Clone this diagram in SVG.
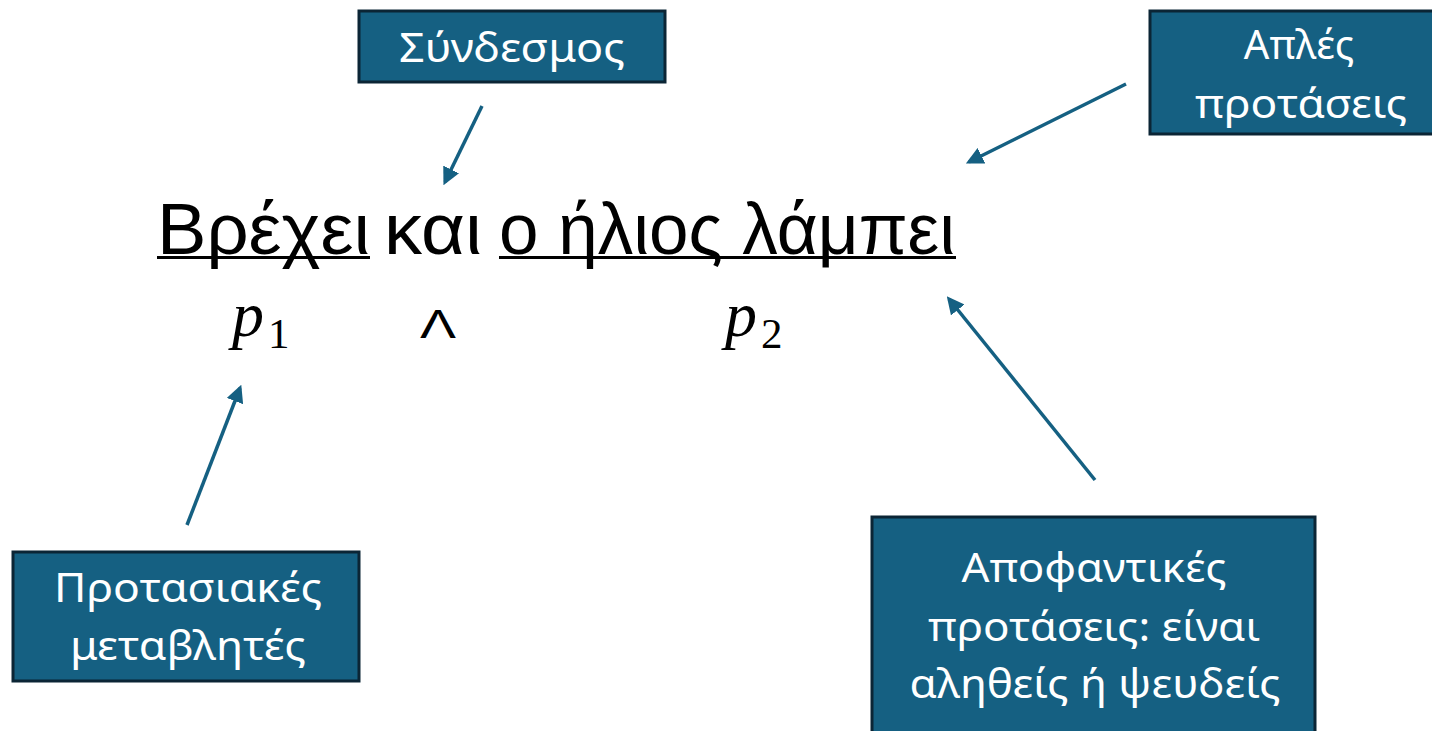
<svg xmlns="http://www.w3.org/2000/svg" width="1432" height="731" viewBox="0 0 1432 731">
<defs>
<style>
.box{fill:#156082;stroke:#0b2535;stroke-width:3}
.lbl{font-family:"Noto Sans","Liberation Sans",sans-serif;font-size:40px;fill:#ffffff;text-anchor:middle}
.main{font-family:"Liberation Sans",Arial,sans-serif;font-size:73px;fill:#000000}
.math{font-family:"Liberation Serif","DejaVu Serif",serif;font-size:64px;fill:#000000}
.sub{font-family:"Liberation Serif","DejaVu Serif",serif;font-size:43px;fill:#000000}
.wedge{font-family:"Liberation Sans",Arial,sans-serif;font-size:40px;fill:#000000}
.conn{stroke:#156082;stroke-width:3.5;fill:none;marker-end:url(#ah)}
</style>
<marker id="ah" viewBox="0 0 10 10" refX="8" refY="5" markerWidth="5" markerHeight="5" orient="auto" markerUnits="strokeWidth">
<path d="M0,0 L10,5 L0,10 z" fill="#156082"/>
</marker>
</defs>
<rect width="1432" height="731" fill="#ffffff"/>

<g id="sentence">
<text class="main" x="157" y="254" textLength="213" lengthAdjust="spacingAndGlyphs">Βρέχει</text>
<text class="main" x="384" y="254" textLength="98" lengthAdjust="spacingAndGlyphs">και</text>
<text class="main" x="499" y="254" textLength="456" lengthAdjust="spacingAndGlyphs">ο ήλιος λάμπει</text>
<rect x="157" y="256" width="213" height="3" fill="#000"/>
<rect x="499" y="256" width="457" height="3" fill="#000"/>
</g>

<g id="formula">
<text class="math" x="232" y="336" font-style="italic">p</text>
<text class="sub" x="268" y="348">1</text>
<text class="wedge" x="420" y="338" textLength="36" lengthAdjust="spacingAndGlyphs">Λ</text>
<text class="math" x="725" y="336" font-style="italic">p</text>
<text class="sub" x="761" y="348">2</text>
</g>

<g id="syndesmos">
<rect class="box" x="359" y="11" width="306" height="71"/>
<text class="lbl" x="512" y="62" textLength="226" lengthAdjust="spacingAndGlyphs">Σύνδεσμος</text>
</g>

<g id="aples">
<rect class="box" x="1150" y="11" width="302" height="123"/>
<text class="lbl" x="1299" y="59">Απλές</text>
<text class="lbl" x="1301" y="118" textLength="212" lengthAdjust="spacingAndGlyphs">προτάσεις</text>
</g>

<g id="protasiakes">
<rect class="box" x="13" y="552" width="346" height="129"/>
<text class="lbl" x="188" y="602" textLength="268" lengthAdjust="spacingAndGlyphs">Προτασιακές</text>
<text class="lbl" x="188" y="660" textLength="236" lengthAdjust="spacingAndGlyphs">μεταβλητές</text>
</g>

<g id="apofantikes">
<rect class="box" x="872" y="517" width="443" height="230"/>
<text class="lbl" x="1094" y="582" textLength="265" lengthAdjust="spacingAndGlyphs">Αποφαντικές</text>
<text class="lbl" x="1094" y="641" textLength="332" lengthAdjust="spacingAndGlyphs">προτάσεις: είναι</text>
<text class="lbl" x="1095" y="698" textLength="371" lengthAdjust="spacingAndGlyphs">αληθείς ή ψευδείς</text>
</g>

<g id="connectors">
<line class="conn" x1="482" y1="106" x2="445" y2="182"/>
<line class="conn" x1="1126" y1="84" x2="969" y2="162"/>
<line class="conn" x1="187" y1="525" x2="240" y2="388"/>
<line class="conn" x1="1095" y1="480" x2="949" y2="299"/>
</g>
</svg>
